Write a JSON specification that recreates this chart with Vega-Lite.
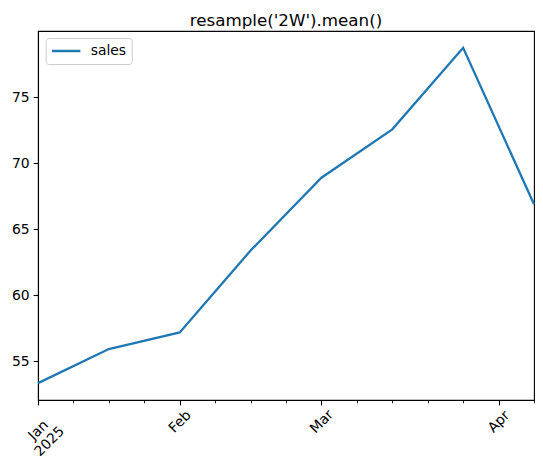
{
  "$schema": "https://vega.github.io/schema/vega-lite/v6.json",
  "autosize": {"type": "none"},
  "width": 496,
  "height": 369,
  "padding": {"left": 38, "top": 31, "right": 9, "bottom": 69},
  "background": "white",
  "title": {"text": "resample('2W').mean()", "font": "DejaVu Sans", "fontSize": 16.7, "fontWeight": "normal", "color": "black", "anchor": "middle", "frame": "group", "baseline": "alphabetic", "offset": 8, "dy": 20},
  "data": {"values": [
    {"date": "2025-01-05", "sales": 53.33},
    {"date": "2025-01-19", "sales": 55.91},
    {"date": "2025-02-02", "sales": 57.17},
    {"date": "2025-02-16", "sales": 63.37},
    {"date": "2025-03-02", "sales": 68.89},
    {"date": "2025-03-16", "sales": 72.55},
    {"date": "2025-03-30", "sales": 78.73},
    {"date": "2025-04-13", "sales": 66.87}
  ]},
  "mark": {"type": "line", "strokeWidth": 2.3},
  "encoding": {
    "x": {
      "field": "date", "type": "temporal",
      "scale": {"type": "utc", "domain": [{"year": 2025, "month": 1, "date": 5, "utc": true}, {"year": 2025, "month": 4, "date": 13, "utc": true}]},
      "axis": {
        "title": null, "grid": false,
        "values": [
          {"year": 2025, "month": 1, "date": 5, "utc": true},
          {"year": 2025, "month": 1, "date": 12, "utc": true},
          {"year": 2025, "month": 1, "date": 19, "utc": true},
          {"year": 2025, "month": 1, "date": 26, "utc": true},
          {"year": 2025, "month": 2, "date": 2, "utc": true},
          {"year": 2025, "month": 2, "date": 9, "utc": true},
          {"year": 2025, "month": 2, "date": 16, "utc": true},
          {"year": 2025, "month": 2, "date": 23, "utc": true},
          {"year": 2025, "month": 3, "date": 2, "utc": true},
          {"year": 2025, "month": 3, "date": 9, "utc": true},
          {"year": 2025, "month": 3, "date": 16, "utc": true},
          {"year": 2025, "month": 3, "date": 23, "utc": true},
          {"year": 2025, "month": 3, "date": 30, "utc": true},
          {"year": 2025, "month": 4, "date": 6, "utc": true},
          {"year": 2025, "month": 4, "date": 13, "utc": true}
        ],
        "labelExpr": "utcdate(datum.value) <= 7 ? (utcmonth(datum.value) == 0 ? ['Jan', '2025'] : utcFormat(datum.value, '%b')) : ''",
        "labelAngle": -45,
        "labelAlign": "center",
        "labelBaseline": "middle",
        "labelPadding": {"condition": {"test": "utcmonth(datum.value) == 0", "value": 25}, "value": 16.5},
        "labelFont": "DejaVu Sans", "labelFontSize": 13.9, "labelColor": "black",
        "labelOverlap": false, "labelBound": false, "labelFlush": false,
        "tickSize": {"condition": {"test": "utcdate(datum.value) <= 7", "value": 4.9}, "value": 2.8},
        "tickWidth": {"condition": {"test": "utcdate(datum.value) <= 7", "value": 1.1}, "value": 0.85},
        "tickColor": "black", "domainColor": "black", "domainWidth": 1.1
      }
    },
    "y": {
      "field": "sales", "type": "quantitative",
      "scale": {"domain": [52.05, 80.0], "nice": false, "zero": false},
      "axis": {
        "title": null, "grid": false,
        "values": [55, 60, 65, 70, 75],
        "labelFont": "DejaVu Sans", "labelFontSize": 13.9, "labelColor": "black",
        "labelPadding": 4, "tickSize": 4.9, "tickWidth": 1.1, "tickColor": "black",
        "domainColor": "black", "domainWidth": 1.1
      }
    },
    "color": {
      "datum": "sales",
      "scale": {"range": ["#1f77b4"]},
      "legend": {
        "title": null, "orient": "none", "legendX": 7.7, "legendY": 7,
        "symbolType": "stroke", "symbolSize": 800, "symbolStrokeWidth": 2.3,
        "labelFont": "DejaVu Sans", "labelFontSize": 13.9, "labelColor": "black",
        "labelOffset": 9, "strokeColor": "#cccccc", "fillColor": "rgba(255,255,255,0.8)",
        "cornerRadius": 3, "padding": 5, "clipHeight": 16
      }
    }
  },
  "config": {"view": {"stroke": "black", "strokeWidth": 1.1}}
}
